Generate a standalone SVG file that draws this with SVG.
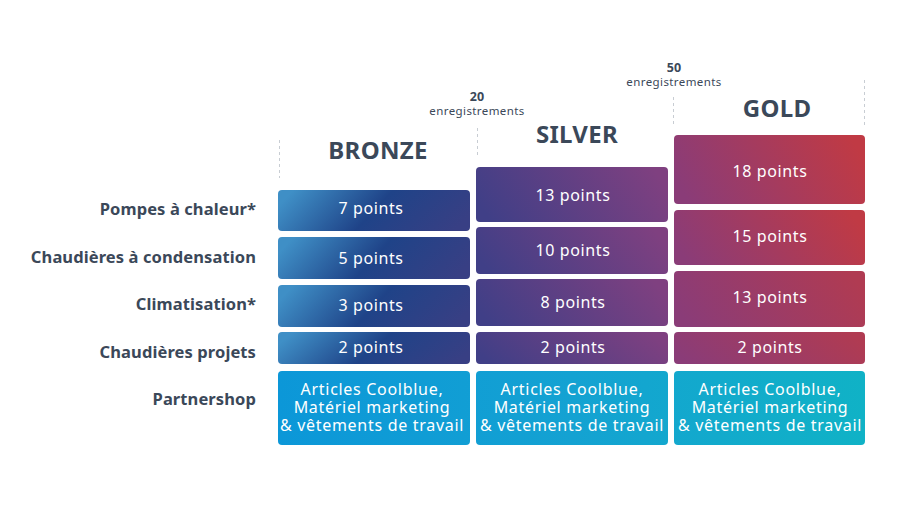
<svg xmlns="http://www.w3.org/2000/svg" width="900" height="507" viewBox="0 0 900 507">
  <defs>
    <linearGradient id="gBronze" x1="0" y1="0.4" x2="1" y2="0.6">
      <stop offset="0" stop-color="#3f8fc6"/>
      <stop offset="0.5" stop-color="#1f4388"/>
      <stop offset="1" stop-color="#383f84"/>
    </linearGradient>
    <linearGradient id="gSilver" x1="0" y1="0.6" x2="1" y2="0.4">
      <stop offset="0" stop-color="#403f87"/>
      <stop offset="1" stop-color="#7f4080"/>
    </linearGradient>
    <linearGradient id="gGold" x1="0" y1="0.6" x2="1" y2="0.4">
      <stop offset="0" stop-color="#8a3c78"/>
      <stop offset="1" stop-color="#c03a44"/>
    </linearGradient>
    <linearGradient id="gGoldLow" x1="0" y1="0.6" x2="1" y2="0.4">
      <stop offset="0" stop-color="#8a3c78"/>
      <stop offset="1" stop-color="#b03b52"/>
    </linearGradient>
    <linearGradient id="gShop" gradientUnits="userSpaceOnUse" x1="278" y1="0" x2="865" y2="0">
      <stop offset="0" stop-color="#0c97d8"/>
      <stop offset="0.5" stop-color="#14a2d2"/>
      <stop offset="1" stop-color="#10b2c6"/>
    </linearGradient>
  </defs>
  <style>
    .lbl { font-family: "Noto Sans", "Open Sans", sans-serif; font-weight: 700; font-size: 16.5px; fill: #3b4859; text-anchor: end; letter-spacing: 0.1px; }
    .head { font-family: "Noto Sans", "Open Sans", sans-serif; font-weight: 700; font-size: 24px; fill: #3b4859; text-anchor: middle; letter-spacing: 0.3px; }
    .num { font-family: "Noto Sans", "Open Sans", sans-serif; font-weight: 700; font-size: 12.5px; fill: #3b4859; text-anchor: middle; }
    .reg { font-family: "Noto Sans", "Open Sans", sans-serif; font-weight: 400; font-size: 11.5px; fill: #3b4859; text-anchor: middle; letter-spacing: 0.4px; }
    .pt { font-family: "Noto Sans", "Open Sans", sans-serif; font-weight: 400; font-size: 16px; fill: #ffffff; text-anchor: middle; letter-spacing: 0.6px; }
    .shop { font-family: "Noto Sans", "Open Sans", sans-serif; font-weight: 400; font-size: 16px; fill: #ffffff; text-anchor: middle; letter-spacing: 0.7px; }
    .dash { stroke: #c8cdd3; stroke-width: 1; stroke-dasharray: 3 3; fill: none; }
    .bz { fill: url(#gBronze); }
    .sv { fill: url(#gSilver); }
    .gd { fill: url(#gGold); }
    .gdl { fill: url(#gGoldLow); }
    .sh { fill: url(#gShop); }
  </style>

  <g id="row-labels">
    <text class="lbl" x="256" y="215">Pompes à chaleur*</text>
    <text class="lbl" x="256" y="263">Chaudières à condensation</text>
    <text class="lbl" x="256" y="310">Climatisation*</text>
    <text class="lbl" x="256" y="358">Chaudières projets</text>
    <text class="lbl" x="256" y="405">Partnershop</text>
  </g>

  <g id="connectors">
    <line class="dash" x1="279.5" y1="140" x2="279.5" y2="178"/>
    <line class="dash" x1="477.5" y1="128" x2="477.5" y2="157"/>
    <line class="dash" x1="673.5" y1="97" x2="673.5" y2="127"/>
    <line class="dash" x1="864.5" y1="80" x2="864.5" y2="127"/>
  </g>

  <g id="thresholds">
    <text class="num" x="477" y="101">20</text>
    <text class="reg" x="477" y="115">enregistrements</text>
    <text class="num" x="674" y="72">50</text>
    <text class="reg" x="674" y="86">enregistrements</text>
  </g>

  <g id="bronze">
    <text class="head" x="378" y="159">BRONZE</text>
    <rect class="bz" x="278" y="190" width="192" height="41" rx="4"/>
    <text class="pt" x="371" y="214">7 points</text>
    <rect class="bz" x="278" y="237" width="192" height="42" rx="4"/>
    <text class="pt" x="371" y="264">5 points</text>
    <rect class="bz" x="278" y="285" width="192" height="42" rx="4"/>
    <text class="pt" x="371" y="311">3 points</text>
    <rect class="bz" x="278" y="332" width="192" height="32" rx="4"/>
    <text class="pt" x="371" y="353">2 points</text>
    <rect class="sh" x="278" y="371" width="192" height="74" rx="4"/>
    <text class="shop" x="372" y="395">Articles Coolblue,</text>
    <text class="shop" x="372" y="413">Matériel marketing</text>
    <text class="shop" x="372" y="431">&amp; vêtements de travail</text>
  </g>

  <g id="silver">
    <text class="head" x="577" y="143">SILVER</text>
    <rect class="sv" x="476" y="167" width="192" height="55" rx="4"/>
    <text class="pt" x="573" y="201">13 points</text>
    <rect class="sv" x="476" y="227" width="192" height="47" rx="4"/>
    <text class="pt" x="573" y="256">10 points</text>
    <rect class="sv" x="476" y="279" width="192" height="47" rx="4"/>
    <text class="pt" x="573" y="308">8 points</text>
    <rect class="sv" x="476" y="332" width="192" height="32" rx="4"/>
    <text class="pt" x="573" y="353">2 points</text>
    <rect class="sh" x="476" y="371" width="192" height="74" rx="4"/>
    <text class="shop" x="572" y="395">Articles Coolblue,</text>
    <text class="shop" x="572" y="413">Matériel marketing</text>
    <text class="shop" x="572" y="431">&amp; vêtements de travail</text>
  </g>

  <g id="gold">
    <text class="head" x="777" y="117">GOLD</text>
    <rect class="gd" x="674" y="135" width="191" height="69" rx="4"/>
    <text class="pt" x="770" y="177">18 points</text>
    <rect class="gd" x="674" y="210" width="191" height="55" rx="4"/>
    <text class="pt" x="770" y="242">15 points</text>
    <rect class="gdl" x="674" y="271" width="191" height="56" rx="4"/>
    <text class="pt" x="770" y="303">13 points</text>
    <rect class="gdl" x="674" y="332" width="191" height="32" rx="4"/>
    <text class="pt" x="770" y="353">2 points</text>
    <rect class="sh" x="674" y="371" width="191" height="74" rx="4"/>
    <text class="shop" x="770" y="395">Articles Coolblue,</text>
    <text class="shop" x="770" y="413">Matériel marketing</text>
    <text class="shop" x="770" y="431">&amp; vêtements de travail</text>
  </g>
</svg>
